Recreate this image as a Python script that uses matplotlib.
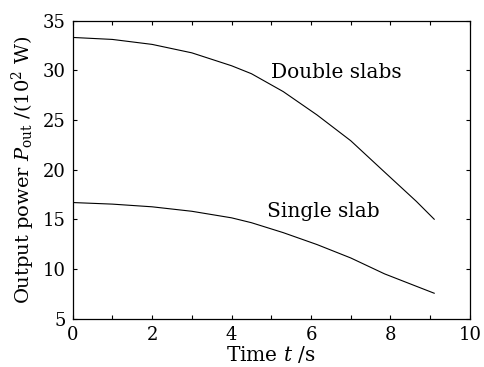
import matplotlib
matplotlib.use("Agg")
import matplotlib.pyplot as plt

# output power vs. time for one and two slabs
t = [0, 1, 2, 3, 4, 4.5, 5.3, 6.15, 7, 7.85, 8.65, 9.1]
double_slabs = [33.3, 33.1, 32.6, 31.75, 30.45, 29.65, 27.85, 25.5, 22.9, 19.75, 16.8, 15.0]
single_slab = [16.68, 16.52, 16.25, 15.8, 15.14, 14.65, 13.65, 12.45, 11.1, 9.5, 8.25, 7.55]

xticks = list(range(0, 11))
xticklabels = [str(v) if v % 2 == 0 else "" for v in xticks]
yticks = [5, 10, 15, 20, 25, 30, 35]

plt.rcParams['font.family'] = ['DejaVu Serif']
plt.rcParams['mathtext.fontset'] = 'dejavuserif'
plt.rcParams['font.size'] = 14.5

fig = plt.figure(figsize=(4.84, 3.67), dpi=100)
ax = fig.add_axes([0.150, 0.132, 0.821, 0.812])

ax.plot(t, double_slabs, color='black', lw=0.8)
ax.plot(t, single_slab, color='black', lw=0.8)

ax.text(5.0, 29.8, "Double slabs", va='center', ha='left')
ax.text(4.89, 15.75, "Single slab", va='center', ha='left')

ax.set_xlim(0, 10)
ax.set_ylim(5, 35)
ax.set_xticks(xticks)
ax.set_xticklabels(xticklabels)
ax.set_yticks(yticks)
ax.tick_params(direction='in', length=3, width=0.8, top=True, right=True,
               pad=5, labelsize=13)
for s in ax.spines.values():
    s.set_linewidth(0.9)

ax.set_xlabel(r"Time $t$ /s", labelpad=0)
ax.set_ylabel(r"Output power $P_{\mathrm{out}}$ /(10$^2$ W)", labelpad=4, fontsize=14)

fig.savefig("out.png", dpi=100)
